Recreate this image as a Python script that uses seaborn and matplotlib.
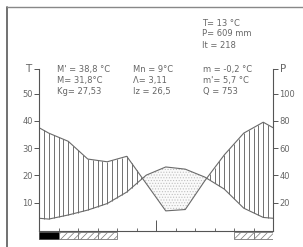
import numpy as np
import matplotlib
matplotlib.use("Agg")
import matplotlib.pyplot as plt
from matplotlib.lines import Line2D
import seaborn as sns

# monthly climate data (Jan..Dec)
months = ["Jan", "Feb", "Mar", "Apr", "May", "Jun",
          "Jul", "Aug", "Sep", "Oct", "Nov", "Dec"]
temp = [4.0, 5.5, 7.3, 9.7, 13.9, 20.1, 23.1, 22.3, 19.4, 15.0, 8.0, 4.6]
precip = [71, 65, 52, 50, 54, 34, 14, 15, 36, 55, 71, 79]
# 2 = certain frost, 1 = probable frost, 0 = none
frost = [2, 1, 1, 1, 0, 0, 0, 0, 0, 0, 1, 1]

t_ticks = [10, 20, 30, 40, 50]
p_ticks = [20, 40, 60, 80, 100]

summary = ["T= 13 °C", "P= 609 mm", "It = 218"]
col1 = ["M' = 38,8 °C", "M= 31,8°C", "Kg= 27,53"]
col2 = ["Mn = 9°C", "Λ= 3,11", "Iz = 26,5"]
col3 = ["m = -0,2 °C", "m'= 5,7 °C", "Q = 753"]

sns.set_style("white")
plt.rcParams["font.family"] = ["DejaVu Sans"]
plt.rcParams["hatch.linewidth"] = 0.5

W, H = 303, 247
ink = "#555555"
txt = "#666666"

fig = plt.figure(figsize=(W / 100, H / 100), dpi=100)
ax = fig.add_axes([39 / W, 1 - 242 / H, 234 / W, 173 / H])
ax.set_xlim(0, 12)
ax.set_ylim(-4.4, 59)

# curves: month centres, closed at both edges with the Dec/Jan mean
t = np.array(temp)
p = np.array(precip) / 2.0
x = np.concatenate([[0], np.arange(12) + 0.5, [12]])
t_line = np.concatenate([[(t[0] + t[-1]) / 2], t, [(t[0] + t[-1]) / 2]])
p_line = np.concatenate([[(p[0] + p[-1]) / 2], p, [(p[0] + p[-1]) / 2]])

# humid period: vertical hatching
xs = np.arange(0, 12.001, 0.25)
ti = np.interp(xs, x, t_line)
pi = np.interp(xs, x, p_line)
wet = pi > ti
ax.vlines(xs[wet], ti[wet], pi[wet], color="#5a5a5a", lw=0.6)

# dry period: dotted
xf = np.linspace(0, 12, 800)
tf = np.interp(xf, x, t_line)
pf = np.interp(xf, x, p_line)
ax.fill_between(xf, pf, tf, where=tf > pf, interpolate=True,
                facecolor="#fafafa", edgecolor="#c0c0c0", hatch="......", lw=0)

sns.lineplot(x=x, y=t_line, ax=ax, color="#6a6a6a", lw=0.8)
sns.lineplot(x=x, y=p_line, ax=ax, color="#6a6a6a", lw=0.8)

# frost bars below the axis
for i, f in enumerate(frost):
    if f == 2:
        ax.bar(i + 0.5, 2.6, bottom=-3.3, width=1, color="black",
               edgecolor="#444444", lw=0.6)
    elif f == 1:
        ax.bar(i + 0.5, 2.6, bottom=-3.3, width=1, color="white",
               edgecolor="#777777", hatch="/////", lw=0.6)

# axes styling
ax.spines["top"].set_visible(False)
ax.spines["right"].set_visible(False)
for s in ["left", "bottom"]:
    ax.spines[s].set_color(ink)
    ax.spines[s].set_linewidth(0.8)
ax.spines["left"].set_bounds(-0.35, 59)
ax.spines["bottom"].set_position(("data", -0.35))

ax.set_yticks(t_ticks + [59])
ax.set_yticklabels([str(v) for v in t_ticks] + [""])
ax.tick_params(axis="y", direction="out", length=3.5, width=0.7,
               color=ink, labelcolor=txt, labelsize=6, pad=1, left=True)

ax.set_xticks([6])
ax.set_xticklabels([])
ax.set_xticks(range(13), minor=True)
ax.tick_params(axis="x", which="major", direction="in", length=8,
               width=0.7, color=ink, bottom=True)
ax.tick_params(axis="x", which="minor", direction="in", length=2.5,
               width=0.6, color=ink, bottom=True)

ax2 = ax.twinx()
ax2.set_ylim(-8.8, 118)
for s in ["top", "left", "bottom"]:
    ax2.spines[s].set_visible(False)
ax2.spines["right"].set_color(ink)
ax2.spines["right"].set_linewidth(0.8)
ax2.spines["right"].set_bounds(-0.7, 118)
ax2.set_yticks(p_ticks + [118])
ax2.set_yticklabels([str(v) for v in p_ticks] + [""])
ax2.tick_params(axis="y", direction="out", length=3.5, width=0.7,
                color=ink, labelcolor=txt, labelsize=6, pad=1, right=True)
ax2.grid(False)
ax.grid(False)

# axis letters
fig.text(28 / W, 1 - 69 / H, "T", fontsize=7.5, color=txt,
         ha="center", va="center")
fig.text(283 / W, 1 - 69 / H, "P", fontsize=7.5, color=txt,
         ha="center", va="center")

# summary text
for k, s in enumerate(summary):
    fig.text(202 / W, 1 - (23 + 11 * k) / H, s, fontsize=6, color=txt, va="center")
for cx, col in [(57, col1), (133, col2), (203, col3)]:
    for k, s in enumerate(col):
        fig.text(cx / W, 1 - (69 + 11 * k) / H, s, fontsize=6, color=txt,
                 va="center")

# frame
fig.add_artist(Line2D([7 / W, 7 / W], [0, 1 - 7 / H], transform=fig.transFigure,
                      color="#666666", lw=1.3))
fig.add_artist(Line2D([7 / W, 1], [1 - 7 / H, 1 - 7 / H], transform=fig.transFigure,
                      color="#888888", lw=1.0))

fig.savefig("out.png", dpi=100)
plt.close(fig)
